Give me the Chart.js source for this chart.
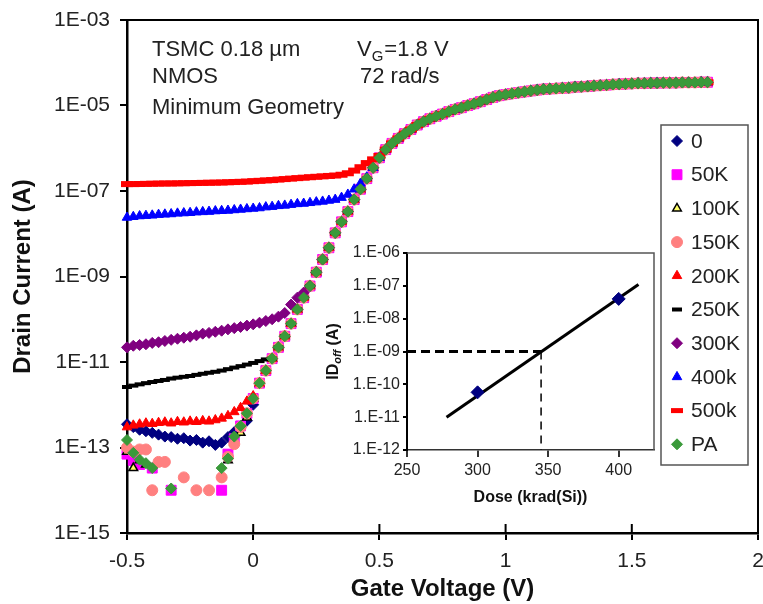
<!DOCTYPE html>
<html>
<head>
<meta charset="utf-8">
<script src="https://cdn.jsdelivr.net/npm/chart.js@4.4.1/dist/chart.umd.min.js"></script>
<style>
html, body { margin: 0; padding: 0; background: #fff; overflow: hidden; }
#wrap { position: relative; width: 763px; height: 604px; overflow: hidden; }
#main { position: absolute; left: 0; top: 0; }
#inset { position: absolute; left: 300px; top: 230px; }
</style>
</head>
<body>
<div id="wrap">
  <canvas id="main" width="770" height="604"></canvas>
  <canvas id="inset" width="365" height="285"></canvas>
</div>
<script>
// gate sweep (V)
const gateV = [
  -0.5, -0.475, -0.45, -0.425, -0.4, -0.375, -0.35, -0.325, -0.3, -0.275,
  -0.25, -0.225, -0.2, -0.175, -0.15, -0.125, -0.1, -0.075, -0.05, -0.025,
  0, 0.025, 0.05, 0.075, 0.1, 0.125, 0.15, 0.175, 0.2, 0.225,
  0.25, 0.275, 0.3, 0.325, 0.35, 0.375, 0.4, 0.425, 0.45, 0.475,
  0.5, 0.525, 0.55, 0.575, 0.6, 0.625, 0.65, 0.675, 0.7, 0.725,
  0.75, 0.775, 0.8, 0.825, 0.85, 0.875, 0.9, 0.925, 0.95, 0.975,
  1, 1.025, 1.05, 1.075, 1.1, 1.125, 1.15, 1.175, 1.2, 1.225,
  1.25, 1.275, 1.3, 1.325, 1.35, 1.375, 1.4, 1.425, 1.45, 1.475,
  1.5, 1.525, 1.55, 1.575, 1.6, 1.625, 1.65, 1.675, 1.7, 1.725,
  1.75, 1.775, 1.8
];

// curve all doses share once the device turns on, from -0.1 V upward
const COMMON_FROM = 16;
const commonI = [
  4.0e-14, 1.6e-13, 3.2e-13, 6.3e-13, 1.4e-12, 3.2e-12, 6.3e-12, 1.2e-11, 2.2e-11, 4.0e-11,
  7.9e-11, 1.7e-10, 3.2e-10, 6.0e-10, 1.26e-9, 2.5e-9, 4.7e-9, 1.05e-8, 1.9e-8, 3.3e-8,
  6.3e-8, 1.1e-7, 1.95e-7, 3.5e-7, 6.0e-7, 9.3e-7, 1.3e-6, 1.7e-6, 2.2e-6, 2.75e-6,
  3.5e-6, 4.2e-6, 4.9e-6, 5.6e-6, 6.3e-6, 7.2e-6, 8.1e-6, 8.9e-6, 1.0e-5, 1.1e-5,
  1.23e-5, 1.38e-5, 1.55e-5, 1.7e-5, 1.8e-5, 1.9e-5, 2.0e-5, 2.1e-5, 2.2e-5, 2.3e-5,
  2.4e-5, 2.45e-5, 2.5e-5, 2.55e-5, 2.6e-5, 2.7e-5, 2.75e-5, 2.8e-5, 2.9e-5, 2.95e-5,
  3.0e-5, 3.1e-5, 3.15e-5, 3.2e-5, 3.25e-5, 3.3e-5, 3.3e-5, 3.35e-5, 3.35e-5, 3.4e-5,
  3.4e-5, 3.4e-5, 3.45e-5, 3.45e-5, 3.45e-5, 3.5e-5, 3.5e-5
];

// off-state part of each sweep, from -0.5 V (null = below the meter floor)
const i0k = [
  3.5e-13, 3.0e-13, 2.6e-13, 2.4e-13, 2.2e-13, 2.0e-13, 1.8e-13, 1.75e-13, 1.6e-13, 1.65e-13,
  1.45e-13, 1.5e-13, 1.3e-13, 1.4e-13, 1.15e-13, 1.3e-13, 1.75e-13, 2.3e-13, 3.0e-13, 4.2e-13,
  1.0e-12
];
const i50k = [
  7e-14, 5e-14, 4e-14, null, 3.3e-14, null, null, 1e-14, null, null,
  null, null, null, null, null, 1e-14, 7e-14
];
const i100k = [
  8e-14, 3.3e-14, 5e-14, 4e-14, null, null, null, null, null, null,
  null, null, null, null, null, null, 5e-14, 1.3e-13, 2.2e-13, 5e-13
];
const i150k = [
  1.0e-13, 8e-14, 9e-14, 9e-14, 1e-14, 4.6e-14, 4.6e-14, null, null, 2e-14,
  null, 1e-14, null, 1e-14, null, 2e-14, 6e-14, 1.2e-13, 3e-13
];
const i200k = [
  3.0e-13, 3.3e-13, 3.5e-13, 3.7e-13, 3.6e-13, 3.8e-13, 3.9e-13, 3.7e-13, 4.0e-13, 3.9e-13,
  4.1e-13, 4.0e-13, 4.2e-13, 4.1e-13, 4.4e-13, 4.8e-13, 5.5e-13, 6.8e-13, 8.5e-13, 1.2e-12,
  1.6e-12
];
const i250k = [
  2.6e-12, 2.8e-12, 3.0e-12, 3.2e-12, 3.4e-12, 3.6e-12, 3.8e-12, 4.1e-12, 4.3e-12, 4.5e-12,
  4.7e-12, 5.0e-12, 5.3e-12, 5.6e-12, 5.9e-12, 6.3e-12, 6.8e-12, 7.4e-12, 8.0e-12, 8.7e-12,
  9.5e-12, 1.05e-11, 1.15e-11
];
const i300k = [
  2.2e-11, 2.4e-11, 2.5e-11, 2.6e-11, 2.8e-11, 2.9e-11, 3.1e-11, 3.3e-11, 3.5e-11, 3.7e-11,
  3.9e-11, 4.2e-11, 4.6e-11, 4.8e-11, 5.1e-11, 5.4e-11, 5.8e-11, 6.2e-11, 6.6e-11, 7.1e-11,
  7.6e-11, 8.3e-11, 9.1e-11, 1.0e-10, 1.15e-10, 1.4e-10, 2.2e-10, 3.2e-10, 4.2e-10
];
const i400k = [
  2.4e-8, 2.5e-8, 2.6e-8, 2.65e-8, 2.7e-8, 2.8e-8, 2.85e-8, 2.9e-8, 3.0e-8, 3.05e-8,
  3.1e-8, 3.2e-8, 3.25e-8, 3.3e-8, 3.4e-8, 3.45e-8, 3.5e-8, 3.6e-8, 3.7e-8, 3.8e-8,
  3.9e-8, 4.0e-8, 4.2e-8, 4.3e-8, 4.5e-8, 4.6e-8, 4.8e-8, 5.0e-8, 5.1e-8, 5.3e-8,
  5.5e-8, 5.7e-8, 6.0e-8, 6.3e-8, 7.0e-8, 8.3e-8, 1.1e-7, 1.5e-7, 2.1e-7
];
const i500k = [
  1.45e-7, 1.45e-7, 1.46e-7, 1.47e-7, 1.48e-7, 1.49e-7, 1.5e-7, 1.5e-7, 1.51e-7, 1.52e-7,
  1.53e-7, 1.54e-7, 1.55e-7, 1.56e-7, 1.57e-7, 1.58e-7, 1.6e-7, 1.62e-7, 1.64e-7, 1.66e-7,
  1.7e-7, 1.73e-7, 1.77e-7, 1.8e-7, 1.85e-7, 1.9e-7, 1.95e-7, 2.0e-7, 2.05e-7, 2.1e-7,
  2.15e-7, 2.2e-7, 2.25e-7, 2.3e-7, 2.4e-7, 2.6e-7, 3.0e-7, 3.6e-7, 4.5e-7, 5.5e-7,
  6.6e-7
];
const iPA = [
  1.5e-13, 7.5e-14, 5.2e-14, 4.3e-14, 3.3e-14, null, null, 1.1e-14, null, null,
  null, null, null, null, null, 3.3e-14, 5.5e-14, 1.8e-13
];

const seriesLabels = ['0', '50K', '100K', '150K', '200K', '250K', '300K', '400k', '500k', 'PA'];
const seriesOff = [i0k, i50k, i100k, i150k, i200k, i250k, i300k, i400k, i500k, iPA];

const voltTicks = [-0.5, 0, 0.5, 1, 1.5, 2];
const voltTickLabels = ['-0.5', '0', '0.5', '1', '1.5', '2'];
const currentTicks = [1e-15, 1e-13, 1e-11, 1e-9, 1e-7, 1e-5, 1e-3];
const currentTickLabels = ['1E-15', '1E-13', '1E-11', '1E-09', '1E-07', '1E-05', '1E-03'];

// inset: off-state leakage vs dose
const doseKrad = [300, 400];
const idOff = [5.7e-11, 4e-8];
const fitDose = [278, 414];
const fitId = [1e-11, 1.1e-7];
const critDoseH = [250, 345];
const critIdH = [1e-9, 1e-9];
const critDoseV = [345, 345];
const critIdV = [1e-9, 1e-12];
const doseTicks = [250, 300, 350, 400];
const idTicks = [1e-12, 1e-11, 1e-10, 1e-9, 1e-8, 1e-7, 1e-6];
const idTickLabels = ['1.E-12', '1.E-11', '1.E-10', '1.E-09', '1.E-08', '1.E-07', '1.E-06'];

const FONT = '"Liberation Sans", Arial, sans-serif';
const TXT = '#222';

const markers = [
  {style: 'rectRot', r: 5.5, fill: '#000080', line: '#000080', bw: 1},
  {style: 'rect', r: 7, fill: '#ff00ff', line: '#ff00ff', bw: 1},
  {style: 'triangle', r: 5, fill: '#ffff66', line: '#000000', bw: 1.5},
  {style: 'circle', r: 5.5, fill: '#ff8080', line: '#ff8080', bw: 1},
  {style: 'triangle', r: 5.5, fill: '#ff0000', line: '#ff0000', bw: 1},
  {style: 'line', r: 5, fill: '#000000', line: '#000000', bw: 4},
  {style: 'rectRot', r: 5.5, fill: '#800080', line: '#800080', bw: 1},
  {style: 'triangle', r: 5.5, fill: '#0000ff', line: '#0000ff', bw: 1},
  {style: 'line', r: 6, fill: '#ff0000', line: '#ff0000', bw: 6},
  {style: 'rectRot', r: 5.5, fill: '#3a9a3a', line: '#3a9a3a', bw: 1}
];

function fullSweep(off) {
  return gateV.map((v, k) => ({x: v, y: k < off.length ? off[k] : commonI[k - COMMON_FROM]}));
}

function pairs(xs, ys) {
  return xs.map((x, k) => ({x: x, y: ys[k]}));
}

function drawMarker(ctx, m, x, y) {
  ctx.beginPath();
  if (m.style === 'rectRot') {
    ctx.moveTo(x - m.r, y); ctx.lineTo(x, y - m.r); ctx.lineTo(x + m.r, y); ctx.lineTo(x, y + m.r);
    ctx.closePath();
  } else if (m.style === 'rect') {
    const s = m.r * Math.SQRT1_2;
    ctx.rect(x - s, y - s, 2 * s, 2 * s);
  } else if (m.style === 'triangle') {
    ctx.moveTo(x, y - m.r);
    ctx.lineTo(x - m.r * 0.866, y + m.r / 2);
    ctx.lineTo(x + m.r * 0.866, y + m.r / 2);
    ctx.closePath();
  } else if (m.style === 'circle') {
    ctx.arc(x, y, m.r, 0, Math.PI * 2);
  } else if (m.style === 'line') {
    ctx.moveTo(x - m.r, y); ctx.lineTo(x + m.r, y);
    ctx.strokeStyle = m.line; ctx.lineWidth = Math.min(m.bw, 5); ctx.stroke();
    return;
  }
  ctx.fillStyle = m.fill; ctx.fill();
  ctx.strokeStyle = m.line; ctx.lineWidth = m.bw; ctx.stroke();
}

const mainDecor = {
  id: 'mainDecor',
  afterDraw(chart) {
    const {ctx, chartArea: a, scales} = chart;
    ctx.save();
    // top/right frame and inner halves of the x ticks
    ctx.strokeStyle = '#000';
    ctx.lineWidth = 2;
    ctx.beginPath();
    ctx.moveTo(a.left, a.top); ctx.lineTo(a.right, a.top); ctx.lineTo(a.right, a.bottom);
    voltTicks.forEach(v => {
      const x = scales.x.getPixelForValue(v);
      ctx.moveTo(x, a.bottom); ctx.lineTo(x, a.bottom - 9);
    });
    ctx.stroke();

    // annotations
    ctx.fillStyle = TXT;
    ctx.textBaseline = 'alphabetic';
    ctx.textAlign = 'left';
    ctx.font = '22px ' + FONT;
    ctx.fillText('TSMC 0.18 \u00b5m', 152, 56);
    ctx.fillText('NMOS', 152, 83);
    ctx.fillText('Minimum Geometry', 152, 114);
    let x = 357;
    ctx.fillText('V', x, 56);
    x += ctx.measureText('V').width;
    ctx.font = '15px ' + FONT;
    ctx.fillText('G', x, 61);
    x += ctx.measureText('G').width + 1;
    ctx.font = '22px ' + FONT;
    ctx.fillText('=1.8 V', x, 56);
    ctx.fillText('72 rad/s', 360, 83);

    // legend box
    ctx.fillStyle = '#fff';
    ctx.fillRect(661, 125, 87, 340);
    ctx.strokeStyle = '#555';
    ctx.lineWidth = 1.5;
    ctx.strokeRect(661, 125, 87, 340);
    ctx.font = '21px ' + FONT;
    ctx.textBaseline = 'middle';
    seriesLabels.forEach((lab, k) => {
      const y = 141 + k * 33.7;
      drawMarker(ctx, markers[k], 677, y);
      ctx.fillStyle = TXT;
      ctx.fillText(lab, 691, y + 1);
    });
    ctx.restore();
  }
};

const datasets = seriesLabels.map((lab, k) => {
  const m = markers[k];
  return {
    label: lab,
    data: fullSweep(seriesOff[k]),
    showLine: false,
    pointStyle: m.style,
    pointRadius: m.r,
    pointBackgroundColor: m.fill,
    pointBorderColor: m.line,
    pointBorderWidth: m.bw,
    order: seriesLabels.length - k,
    clip: false
  };
});

// the canvas is 7 px wider than the window; Chart.js keeps 12 px right of the
// plot for the widest marker, which puts the plot edge at 758
new Chart(document.getElementById('main'), {
  type: 'scatter',
  data: {datasets: datasets},
  options: {
    responsive: false,
    animation: false,
    devicePixelRatio: 1,
    events: [],
    layout: {padding: {top: 20, right: 0, left: 0, bottom: 0}},
    plugins: {legend: {display: false}, tooltip: {enabled: false}},
    scales: {
      x: {
        type: 'linear',
        min: -0.5,
        max: 2,
        afterBuildTicks: s => { s.ticks = voltTicks.map(v => ({value: v})); },
        afterFit: s => { s.height = 71; s.paddingLeft = 0; s.paddingRight = 0; },
        ticks: {
          callback: (v, i) => voltTickLabels[i],
          font: {family: FONT, size: 21},
          color: TXT,
          padding: 9,
          maxRotation: 0,
          autoSkip: false
        },
        grid: {drawOnChartArea: false, tickLength: 7, color: '#000', lineWidth: 2},
        border: {color: '#000', width: 2.5},
        title: {
          display: true,
          text: 'Gate Voltage (V)',
          font: {family: FONT, size: 24, weight: 'bold'},
          color: '#111',
          padding: {top: 0, bottom: 0}
        }
      },
      y: {
        type: 'logarithmic',
        min: 1e-15,
        max: 1e-3,
        afterBuildTicks: s => { s.ticks = currentTicks.map(v => ({value: v})); },
        afterFit: s => { s.width = 127; s.paddingTop = 0; s.paddingBottom = 0; },
        ticks: {
          callback: (v, i) => currentTickLabels[i],
          font: {family: FONT, size: 21},
          color: TXT,
          padding: 10,
          autoSkip: false
        },
        grid: {drawOnChartArea: false, tickLength: 7, color: '#000', lineWidth: 2},
        border: {color: '#000', width: 2.5},
        title: {
          display: true,
          text: 'Drain Current (A)',
          font: {family: FONT, size: 24, weight: 'bold'},
          color: '#111',
          padding: {top: 9, bottom: 0}
        }
      }
    }
  },
  plugins: [mainDecor]
});

const insetDecor = {
  id: 'insetDecor',
  beforeDraw(chart) {
    const {ctx, chartArea: a} = chart;
    ctx.save();
    ctx.fillStyle = '#fff';
    ctx.fillRect(a.left, a.top, a.right - a.left, a.bottom - a.top);
    ctx.restore();
  },
  afterDraw(chart) {
    const {ctx, chartArea: a} = chart;
    ctx.save();
    ctx.strokeStyle = '#555';
    ctx.lineWidth = 1.5;
    ctx.beginPath();
    ctx.moveTo(a.left, a.top); ctx.lineTo(a.right, a.top); ctx.lineTo(a.right, a.bottom);
    ctx.stroke();
    // rotated y title with subscript
    ctx.translate(34, (a.top + a.bottom) / 2);
    ctx.rotate(-Math.PI / 2);
    ctx.fillStyle = '#111';
    ctx.textBaseline = 'middle';
    const big = 'bold 16px ' + FONT;
    const sub = 'italic bold 11px ' + FONT;
    ctx.font = big; const w1 = ctx.measureText('ID').width; const w3 = ctx.measureText(' (A)').width;
    ctx.font = sub; const w2 = ctx.measureText('off').width;
    let x = -(w1 + w2 + w3) / 2;
    ctx.font = big; ctx.fillText('ID', x, 0); x += w1;
    ctx.font = sub; ctx.fillText('off', x, 4); x += w2;
    ctx.font = big; ctx.fillText(' (A)', x, 0);
    ctx.restore();
  }
};

new Chart(document.getElementById('inset'), {
  type: 'scatter',
  data: {
    datasets: [
      {
        label: 'measured',
        data: pairs(doseKrad, idOff),
        showLine: false,
        pointStyle: 'rectRot',
        pointRadius: 6.5,
        pointBackgroundColor: '#000080',
        pointBorderColor: '#000080',
        order: 0
      },
      {
        label: 'fit',
        data: pairs(fitDose, fitId),
        showLine: true,
        borderColor: '#000',
        borderWidth: 3,
        pointRadius: 0,
        order: 1
      },
      {
        label: 'critical level',
        data: pairs(critDoseH, critIdH),
        showLine: true,
        borderColor: '#000',
        borderWidth: 3,
        borderDash: [9, 5],
        pointRadius: 0,
        order: 2
      },
      {
        label: 'critical dose',
        data: pairs(critDoseV, critIdV),
        showLine: true,
        borderColor: '#000',
        borderWidth: 1.5,
        borderDash: [8, 6],
        pointRadius: 0,
        order: 3
      }
    ]
  },
  options: {
    responsive: false,
    animation: false,
    devicePixelRatio: 1,
    events: [],
    layout: {padding: {top: 23, right: 11, left: 0, bottom: 0}},
    plugins: {legend: {display: false}, tooltip: {enabled: false}},
    scales: {
      x: {
        type: 'linear',
        min: 250,
        max: 425,
        afterBuildTicks: s => { s.ticks = doseTicks.map(v => ({value: v})); },
        afterFit: s => { s.height = 65; s.paddingLeft = 0; s.paddingRight = 0; },
        ticks: {font: {family: FONT, size: 16}, color: TXT, padding: 4, maxRotation: 0, autoSkip: false},
        grid: {drawOnChartArea: false, tickLength: 7, color: '#333', lineWidth: 2},
        border: {color: '#333', width: 1.5},
        title: {
          display: true,
          text: 'Dose (krad(Si))',
          font: {family: FONT, size: 16, weight: 'bold'},
          color: '#111',
          padding: {top: 0, bottom: 8}
        }
      },
      y: {
        type: 'logarithmic',
        min: 1e-12,
        max: 1e-6,
        afterBuildTicks: s => { s.ticks = idTicks.map(v => ({value: v})); },
        afterFit: s => { s.width = 107; s.paddingTop = 0; s.paddingBottom = 0; },
        ticks: {
          callback: (v, i) => idTickLabels[i],
          font: {family: FONT, size: 16},
          color: TXT,
          padding: 3,
          autoSkip: false
        },
        grid: {drawOnChartArea: false, tickLength: 4, color: '#000', lineWidth: 2},
        border: {color: '#000', width: 2}
      }
    }
  },
  plugins: [insetDecor]
});
</script>
</body>
</html>
